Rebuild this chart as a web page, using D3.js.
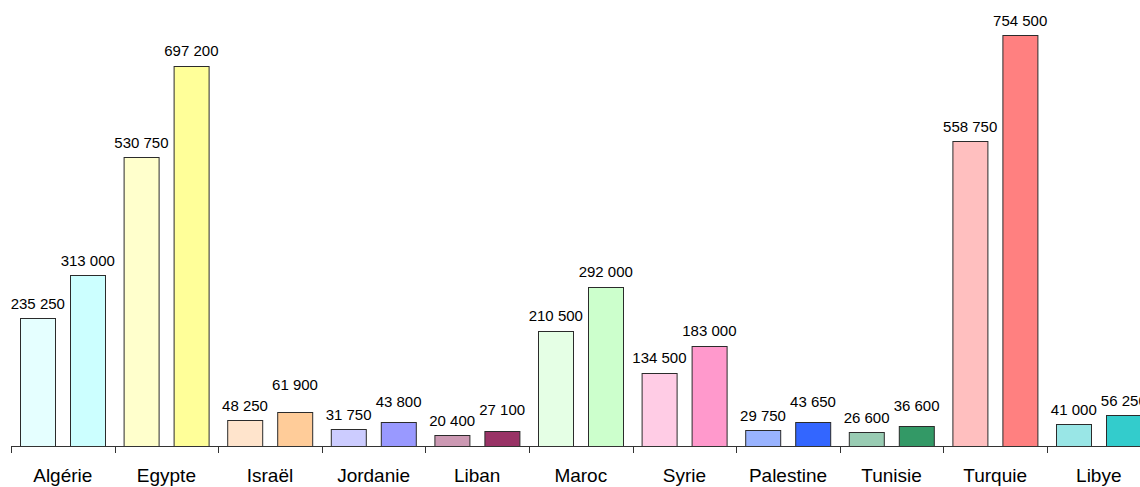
<!DOCTYPE html>
<html>
<head>
<meta charset="utf-8">
<script src="https://cdn.jsdelivr.net/npm/d3@7"></script>
<style>
  html, body { margin: 0; padding: 0; background: #fff; }
  svg { display: block; font-family: "Liberation Sans", Arial, sans-serif; }
</style>
</head>
<body>
<svg id="chart" width="1140" height="487"></svg>
<script>
// Countries and the two values shown for each
const categories = ["Algérie", "Egypte", "Israël", "Jordanie", "Liban", "Maroc",
                    "Syrie", "Palestine", "Tunisie", "Turquie", "Libye"];
const seriesA = [235250, 530750, 48250, 31750, 20400, 210500, 134500, 29750, 26600, 558750, 41000];
const seriesB = [313000, 697200, 61900, 43800, 27100, 292000, 183000, 43650, 36600, 754500, 56250];

// Fill colours: a light shade and a stronger shade per country
const colorsA = ["#E5FFFF", "#FFFFCC", "#FFE4CC", "#CCCCFF", "#CC99B3", "#E5FFE5",
                 "#FFCCE5", "#99B3FF", "#99CCB3", "#FFBFBF", "#99E6E6"];
const colorsB = ["#CCFFFF", "#FFFF99", "#FFCC99", "#9999FF", "#993366", "#CCFFCC",
                 "#FF99CC", "#3366FF", "#339966", "#FF8080", "#33CCCC"];

// Extra lift (px) of each value label above its bar, so neighbouring labels stay apart
const liftA = [9, 9, 8.5, 8.5, 8.5, 10, 10, 8.5, 8.5, 9, 9];
const liftB = [9, 10, 22, 15, 16.5, 10, 10, 15.5, 15, 9, 9];

const fmt = v => d3.format(",")(v).replace(/,/g, " ");

const svg = d3.select("#chart");
const baseY = 446;
const groupW = 103.6;
const x0 = 11;

const x = d3.scaleBand()
  .domain(categories)
  .range([x0, x0 + groupW * categories.length])
  .paddingInner(0).paddingOuter(0);

const xs = d3.scaleBand()
  .domain(["A", "B"])
  .range([0, x.bandwidth()])
  .paddingInner(0.28).paddingOuter(0.176);

const y = d3.scaleLinear().domain([0, 800000]).range([baseY, 10]);

const rows = categories.map((c, i) => ({
  cat: c,
  bars: [
    { key: "A", value: seriesA[i], fill: colorsA[i], lift: liftA[i] },
    { key: "B", value: seriesB[i], fill: colorsB[i], lift: liftB[i] }
  ]
}));

const groups = svg.append("g").selectAll("g")
  .data(rows).join("g")
  .attr("transform", d => `translate(${x(d.cat)},0)`);

groups.selectAll("rect")
  .data(d => d.bars).join("rect")
  .attr("x", d => Math.round(xs(d.key)) + 0.5)
  .attr("y", d => Math.round(y(d.value)) + 0.5)
  .attr("width", Math.round(xs.bandwidth()) - 1)
  .attr("height", d => baseY - Math.round(y(d.value)))
  .attr("fill", d => d.fill)
  .attr("stroke", "#2b2b2b")
  .attr("stroke-width", 1);

groups.selectAll("text.val")
  .data(d => d.bars).join("text")
  .attr("class", "val")
  .attr("x", d => xs(d.key) + xs.bandwidth() / 2)
  .attr("y", d => y(d.value) - d.lift)
  .attr("text-anchor", "middle")
  .attr("font-size", 15)
  .attr("fill", "#000")
  .text(d => fmt(d.value));

// Category axis along the baseline, ticks on group boundaries
const axisG = svg.append("g");
axisG.append("line")
  .attr("x1", x0).attr("x2", 1140)
  .attr("y1", baseY + 0.5).attr("y2", baseY + 0.5)
  .attr("stroke", "#333").attr("stroke-width", 1);

const boundaries = categories.map(c => x(c)).concat([x.range()[1]]);
axisG.selectAll("line.tick")
  .data(boundaries).join("line")
  .attr("class", "tick")
  .attr("x1", d => Math.round(d) + 0.5).attr("x2", d => Math.round(d) + 0.5)
  .attr("y1", baseY).attr("y2", baseY + 7)
  .attr("stroke", "#333").attr("stroke-width", 1);

axisG.selectAll("text.cat")
  .data(categories).join("text")
  .attr("class", "cat")
  .attr("x", d => x(d) + x.bandwidth() / 2)
  .attr("y", 482)
  .attr("text-anchor", "middle")
  .attr("font-size", 19)
  .attr("fill", "#000")
  .text(d => d);
</script>
</body>
</html>
